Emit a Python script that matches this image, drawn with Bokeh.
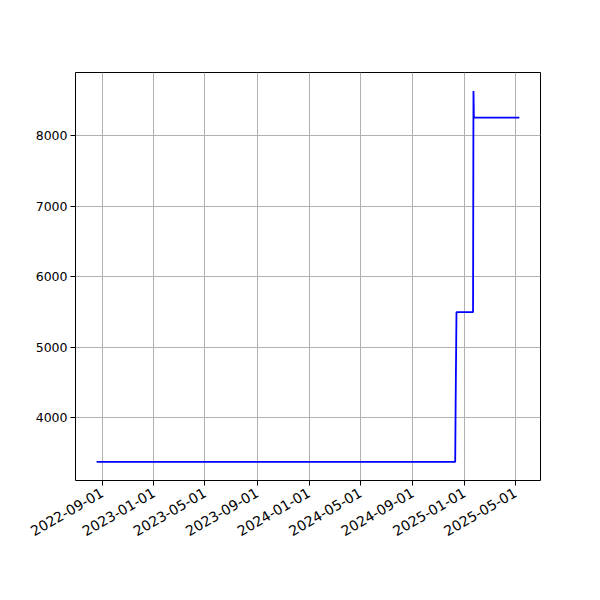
import math
from datetime import datetime
from bokeh.plotting import figure
from bokeh.models import FixedTicker, DatetimeTickFormatter, Range1d
from bokeh.embed import file_html
from bokeh.resources import INLINE

# data
dates = ["2022-08-19", "2024-12-10", "2024-12-11", "2024-12-13", "2025-01-21",
         "2025-01-22", "2025-01-23", "2025-05-10"]
values = [3375, 3375, 4200, 5500, 5500, 8636, 8260, 8260]
x_tick_labels = ["2022-09-01", "2023-01-01", "2023-05-01", "2023-09-01", "2024-01-01",
                 "2024-05-01", "2024-09-01", "2025-01-01", "2025-05-01"]
y_ticks = [4000, 5000, 6000, 7000, 8000]

xs = [datetime.strptime(d, "%Y-%m-%d") for d in dates]
def ms(d):
    return (datetime.strptime(d, "%Y-%m-%d") - datetime(1970, 1, 1)).total_seconds() * 1000

x0, x1 = ms(dates[0]), ms(dates[-1])
pad = (x1 - x0) * 0.05
y0, y1 = min(values), max(values)
ypad = (y1 - y0) * 0.05

p = figure(x_axis_type="datetime", output_backend="svg", toolbar_location=None,
           frame_width=465, frame_height=408,
           min_border_left=75, min_border_right=52, min_border_top=72, min_border_bottom=112,
           x_range=Range1d(x0 - pad, x1 + pad), y_range=Range1d(y0 - ypad, y1 + ypad))
p.line(xs, values, line_color="#0000ff", line_width=1.8)

p.xaxis.ticker = FixedTicker(ticks=[ms(d) for d in x_tick_labels])
p.xaxis.formatter = DatetimeTickFormatter(days="%Y-%m-%d", months="%Y-%m-%d", years="%Y-%m-%d",
                                          hours="%Y-%m-%d", minutes="%Y-%m-%d")
p.xaxis.major_label_orientation = math.pi / 6
p.yaxis.ticker = FixedTicker(ticks=y_ticks)

for ax in (p.xaxis[0], p.yaxis[0]):
    ax.major_label_text_font = "DejaVu Sans"
    ax.major_label_text_color = "black"
    ax.axis_line_color = None
    ax.major_tick_line_color = "black"
    ax.major_tick_out = 5
    ax.major_tick_in = 0
    ax.minor_tick_line_color = None
p.xaxis.major_label_text_font_size = "14px"
p.yaxis.major_label_text_font_size = "12.5px"
p.yaxis.major_label_standoff = 3
p.xaxis.major_label_standoff = 6

p.outline_line_color = "black"
p.outline_line_width = 1
p.outline_line_alpha = 1
p.xgrid.grid_line_color = "#b0b0b0"
p.ygrid.grid_line_color = "#b0b0b0"
p.xgrid.grid_line_width = 1
p.ygrid.grid_line_width = 1
p.background_fill_color = "white"
p.border_fill_color = "white"

open("out.html", "w").write(file_html(p, INLINE))
